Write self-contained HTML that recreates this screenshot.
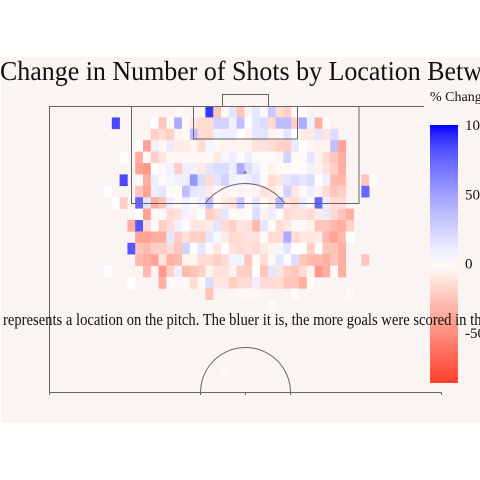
<!DOCTYPE html>
<html><head><meta charset="utf-8"><style>
html,body{margin:0;padding:0;background:#fff;width:480px;height:480px;overflow:hidden}
svg{display:block}
text{font-family:"Liberation Serif",serif;fill:#111}
</style></head><body>
<svg id="chart" width="480" height="480" viewBox="0 0 480 480">
<rect x="1" y="57" width="479" height="366" fill="#faf4f3"/>
<g id="cells"></g>
<g fill="none" stroke="#666" stroke-width="1">
<path d="M49.5 392.5V106.5H424"/>
<path d="M49.5 392.5H441.5M49.5 392.5v2.5M200.5 392.5v2.5M245.5 392.5v2.5M290.5 392.5v2.5M441.5 392.5v2.5"/>
<path d="M200.5 392.5A45 45 0 0 1 290.5 392.5"/>
<rect x="131.5" y="106.5" width="227.5" height="97"/>
<rect x="193.5" y="106.5" width="104" height="32.5"/>
<path d="M222.5 106.5V94.5H268.5V106.5"/>
<path d="M205 203.5A50 50 0 0 1 285 203.5"/>
<path d="M243 172.5h4M245 170.5v4" stroke-width="0.8"/>
</g>
<text x="0" y="80" font-size="27" textLength="518" lengthAdjust="spacingAndGlyphs">Change in Number of Shots by Location Between</text>
<text x="430" y="101" font-size="14">% Change</text>
<defs><linearGradient id="cbg" x1="0" y1="0" x2="0" y2="1"></linearGradient></defs>
<rect id="cbar" x="430" y="125" width="28" height="258" fill="url(#cbg)"/>
<g id="cbticks"></g>
<text x="3" y="325" font-size="17" textLength="485" lengthAdjust="spacingAndGlyphs">represents a location on the pitch. The bluer it is, the more goals were scored in the</text>
</svg>
<script>
const N = null;
const colCount = 35;
const rowValues = [
/*0*/[N,N,N,N,N,N,N,N,N,-3,N,N,N,90,-25,-3,15,-25,-5,15,-3,30,-15,-20,-3,0,N,N,N,N,N,N,N,N,N],
/*1*/[N,85,N,N,N,N,0,-25,-2,45,-2,-10,-15,-15,25,25,8,35,0,15,20,-15,35,35,-20,45,8,-35,-2,N,N,N,N,N,N],
/*2*/[N,N,N,N,N,N,-20,-15,-20,-5,-3,35,-15,-15,8,10,10,0,-5,15,15,-5,-3,15,0,-8,-8,15,-10,20,N,N,N,N,N],
/*3*/[N,N,N,N,0,-40,10,-3,12,-8,-8,-5,-15,5,-3,-5,-5,-5,-5,-12,-12,-15,-20,-20,12,0,-3,-5,-5,35,-40,N,N,N,N],
/*4*/[N,N,0,N,-35,-2,-20,-10,-3,-3,-3,-3,-3,-3,-8,5,10,-2,10,-2,-2,-2,-3,25,-2,-2,15,-5,-15,-25,-35,N,N,N,N],
/*5*/[N,N,N,N,-40,-45,0,-3,8,-20,10,8,-8,15,20,20,10,45,20,10,-2,-5,-2,-2,-2,-2,8,-5,-12,-20,-35,N,N,N,N],
/*6*/[N,N,85,N,-3,-35,10,-2,5,8,10,55,20,-15,15,25,10,5,10,15,-2,-15,-10,15,20,15,20,0,10,-30,-30,N,N,-25,-2],
/*7*/[0,N,N,N,-25,-40,10,15,-2,-2,35,15,12,-8,-3,-5,-3,-5,-3,-5,-12,-8,-3,25,-10,-2,10,-5,-15,-25,-20,N,N,75,N],
/*8*/[N,0,-20,N,75,15,-35,-25,10,-2,8,-2,10,35,-2,-8,-12,30,-2,15,-2,-8,40,-10,-15,10,-2,75,10,-15,-15,N,N,N,N],
/*9*/[N,N,N,N,0,-40,-3,-2,-15,-12,8,-5,0,-20,-15,15,-2,-2,-2,20,-5,10,-2,-15,-12,-12,-15,-8,12,-15,-25,-35,N,N,N],
/*10*/[N,N,N,-35,80,-15,-2,-20,-15,8,3,-10,-10,-8,15,-15,-20,-10,-12,-30,15,-2,-15,-10,-2,-2,-5,-25,-25,-30,-35,-20,N,N,N],
/*11*/[N,N,N,N,-40,-40,-35,-35,15,-20,-12,-20,-20,15,5,-8,-15,-15,-12,-12,-2,-15,-15,45,-15,-10,-10,-8,-30,-40,-30,0,N,N,N],
/*12*/[N,N,N,80,-25,-30,-20,-20,-15,-25,25,0,15,-2,-10,0,-12,-15,-12,-15,-8,-5,5,15,0,0,-20,0,-25,-25,-35,N,N,N,N],
/*13*/[N,N,N,N,-30,-35,-40,-10,-35,-30,-5,-5,-15,-15,-20,-15,8,8,-25,3,-15,-3,15,-2,20,-25,-30,-30,-35,-25,-35,N,N,-25,N],
/*14*/[0,N,N,N,N,-30,N,-45,-20,10,-30,-25,-20,-5,-12,-12,-5,-20,-20,0,-25,15,-10,-20,-25,-15,-5,-45,-35,-2,-35,N,N,N,N],
/*15*/[N,N,N,0,N,N,N,-35,-2,-3,-2,-15,-2,20,-10,-10,-20,-15,-15,10,-15,-15,-15,-25,-25,-35,-2,N,N,N,N,N,N,N,N],
/*16*/[N,N,N,N,N,N,N,N,N,N,N,N,N,-25,N,N,N,-3,-3,-3,N,N,N,N,-2,N,N,N,N,N,N,-2,N,N,N],
/*17*/[N,N,N,N,N,N,N,N,N,N,N,N,N,N,N,N,N,N,N,N,N,-2,N,N,N,N,N,N,N,N,N,N,N,N,N],
/*18*/[], /*19*/[], /*20*/[], /*21*/[], /*22*/[],
/*23*/[N,N,N,N,N,N,N,N,N,N,N,N,N,N,N,-3,N,N,N,N,N,N,N,N,N,N,N,N,N,N,N,N,N,N,N]
];
const colorbarTicks = [100, 50, 0, -50];
const colorbarTickLabels = ["100", "50", "0", "-50"];
const valueMax = 100;
const valueMin = -86;

const x0 = 104, cw = 7.8, y0 = 106, ch = 11.4;
function xCol(c){ return x0 + c*cw; }
function yRow(r){ return y0 + r*ch; }
function colorFor(v){
  if (v >= 0){
    const t = Math.min(1, v/valueMax);
    const k = Math.round(255*Math.pow(1-t, 0.67));
    return `rgb(${k},${k},255)`;
  } else {
    const s = Math.min(1, v/valueMin);
    const g = Math.round(255-191*Math.pow(s,0.95));
    const b = Math.round(255-211*Math.pow(s,0.9));
    return `rgb(255,${g},${b})`;
  }
}
const NS = "http://www.w3.org/2000/svg";
const cells = document.getElementById('cells');
rowValues.forEach((row, r) => {
  row.forEach((v, c) => {
    if (v === null || v === undefined) return;
    const el = document.createElementNS(NS, 'rect');
    el.setAttribute('x', xCol(c).toFixed(2));
    el.setAttribute('y', yRow(r).toFixed(2));
    el.setAttribute('width', (cw+0.3).toFixed(2));
    el.setAttribute('height', (ch+0.3).toFixed(2));
    el.setAttribute('fill', colorFor(v));
    
    
    cells.appendChild(el);
  });
});
const cbTop = 125, cbBot = 383;
function yBar(v){ return cbTop + (valueMax - v)/(valueMax - valueMin)*(cbBot - cbTop); }
const grad = document.getElementById('cbg');
for (let i = 0; i <= 20; i++){
  const v = valueMax - (valueMax - valueMin)*i/20;
  const st = document.createElementNS(NS, 'stop');
  st.setAttribute('offset', (i/20).toFixed(3));
  st.setAttribute('stop-color', colorFor(v));
  grad.appendChild(st);
}
const tg = document.getElementById('cbticks');
colorbarTicks.forEach((v, i) => {
  const t = document.createElementNS(NS, 'text');
  t.setAttribute('x', 465);
  t.setAttribute('y', (yBar(v)+5).toFixed(1));
  t.setAttribute('font-size', '15');
  t.textContent = colorbarTickLabels[i];
  
  
  tg.appendChild(t);
});
</script>
</body></html>
